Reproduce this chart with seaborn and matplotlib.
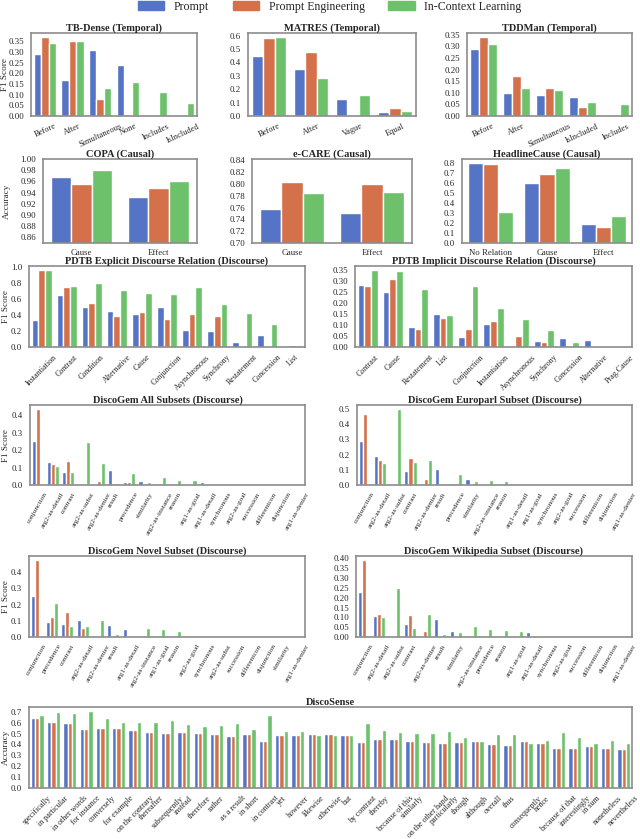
import pandas as pd
import matplotlib
matplotlib.use("Agg")
import matplotlib.pyplot as plt
from matplotlib.ticker import MultipleLocator
import seaborn as sns

methods = ["Prompt", "Prompt Engineering", "In-Context Learning"]
colors = ["#5674C6", "#D4714A", "#6CC16A"]

# ---- temporal
tb_cats = ["Before", "After", "Simultaneous", "None", "Includes", "IsIncluded"]
tb_prompt = [0.29, 0.17, 0.31, 0.24, 0.0, 0.0]
tb_pe = [0.37, 0.35, 0.08, 0.0, 0.0, 0.0]
tb_icl = [0.34, 0.35, 0.13, 0.16, 0.11, 0.06]

matres_cats = ["Before", "After", "Vague", "Equal"]
matres_prompt = [0.45, 0.35, 0.13, 0.03]
matres_pe = [0.58, 0.48, 0.0, 0.06]
matres_icl = [0.59, 0.28, 0.16, 0.035]

tdd_cats = ["Before", "After", "Simultaneous", "IsIncluded", "Includes"]
tdd_prompt = [0.29, 0.10, 0.09, 0.08, 0.0]
tdd_pe = [0.34, 0.17, 0.12, 0.04, 0.0]
tdd_icl = [0.31, 0.12, 0.11, 0.06, 0.05]

# ---- causal
copa_cats = ["Cause", "Effect"]
copa_prompt = [0.968, 0.932]
copa_pe = [0.956, 0.948]
copa_icl = [0.980, 0.960]

ecare_cats = ["Cause", "Effect"]
ecare_prompt = [0.757, 0.751]
ecare_pe = [0.803, 0.800]
ecare_icl = [0.784, 0.786]

head_cats = ["No Relation", "Cause", "Effect"]
head_prompt = [0.80, 0.60, 0.19]
head_pe = [0.79, 0.69, 0.16]
head_icl = [0.31, 0.75, 0.27]

# ---- PDTB
exp_cats = ["Instantiation", "Contrast", "Condition", "Alternative", "Cause", "Conjunction",
            "Asynchronous", "Synchrony", "Restatement", "Concession", "List"]
exp_prompt = [0.34, 0.66, 0.50, 0.45, 0.41, 0.50, 0.21, 0.20, 0.06, 0.15, 0.0]
exp_pe = [0.97, 0.76, 0.55, 0.39, 0.44, 0.35, 0.42, 0.39, 0.0, 0.0, 0.03]
exp_icl = [0.97, 0.77, 0.80, 0.72, 0.68, 0.67, 0.76, 0.54, 0.43, 0.29, 0.02]

imp_cats = ["Contrast", "Cause", "Restatement", "List", "Conjunction", "Instantiation",
            "Asynchronous", "Synchrony", "Concession", "Alternative", "Prag.Cause"]
imp_prompt = [0.28, 0.25, 0.092, 0.15, 0.045, 0.105, 0.0, 0.025, 0.042, 0.032, 0.0]
imp_pe = [0.275, 0.31, 0.08, 0.133, 0.08, 0.118, 0.05, 0.023, 0.0, 0.0, 0.0]
imp_icl = [0.35, 0.345, 0.265, 0.143, 0.275, 0.177, 0.128, 0.078, 0.023, 0.0, 0.0]

# ---- DiscoGem
all_cats = ["conjunction", "arg2-as-detail", "contrast", "arg2-as-subst", "arg2-as-denier", "result",
            "precedence", "similarity", "arg2-as-instance", "reason", "arg1-as-goal", "arg1-as-detail",
            "synchronous", "arg2-as-goal", "succession", "differentcon", "disjunction", "arg1-as-denier"]
all_prompt = [0.253, 0.13, 0.072, 0, 0, 0.086, 0.015, 0.023, 0, 0, 0, 0.017, 0, 0, 0, 0, 0, 0]
all_pe = [0.438, 0.118, 0.139, 0, 0.023, 0.005, 0.015, 0, 0, 0, 0, 0, 0, 0, 0, 0, 0, 0]
all_icl = [0.005, 0.107, 0.076, 0.248, 0.124, 0.011, 0.069, 0.019, 0.048, 0.029, 0.027, 0.004,
           0, 0, 0, 0, 0, 0]

euro_cats = ["conjunction", "arg2-as-detail", "arg2-as-subst", "contrast", "arg2-as-denier", "result",
             "precedence", "similarity", "arg2-as-instance", "reason", "arg1-as-detail", "arg1-as-goal",
             "synchronous", "arg2-as-goal", "succession", "differentcon", "disjunction", "arg1-as-denier"]
euro_prompt = [0.29, 0.188, 0, 0.09, 0, 0.105, 0.013, 0.037, 0, 0, 0, 0, 0, 0, 0, 0, 0, 0]
euro_pe = [0.463, 0.162, 0, 0.175, 0.041, 0.009, 0.015, 0, 0, 0, 0, 0, 0, 0, 0, 0, 0, 0]
euro_icl = [0, 0.144, 0.50, 0.148, 0.162, 0.007, 0.072, 0.026, 0.031, 0.024, 0, 0, 0, 0, 0, 0, 0, 0]

novel_cats = ["conjunction", "precedence", "contrast", "arg2-as-detail", "arg2-as-denier", "result",
              "arg1-as-detail", "arg2-as-instance", "arg1-as-goal", "reason", "arg2-as-goal", "synchronous",
              "arg2-as-subst", "succession", "differentcon", "disjunction", "similarity", "arg1-as-denier"]
novel_prompt = [0.25, 0.095, 0.078, 0.103, 0, 0.074, 0.052, 0, 0, 0, 0, 0, 0, 0, 0, 0, 0, 0]
novel_pe = [0.476, 0.124, 0.153, 0.058, 0, 0, 0, 0, 0, 0, 0, 0, 0, 0, 0, 0, 0, 0]
novel_icl = [0.006, 0.21, 0.066, 0.066, 0.105, 0.016, 0.008, 0.058, 0.049, 0.035, 0, 0, 0, 0, 0, 0, 0, 0]

wiki_cats = ["conjunction", "arg2-as-detail", "arg2-as-subst", "contrast", "arg2-as-denier", "result",
             "similarity", "arg2-as-instance", "precedence", "reason", "arg1-as-goal", "arg1-as-detail",
             "synchronous", "arg2-as-goal", "succession", "differentcon", "disjunction", "arg1-as-denier"]
wiki_prompt = [0.23, 0.109, 0, 0.065, 0, 0.09, 0.032, 0, 0, 0, 0, 0.024, 0, 0, 0, 0, 0, 0]
wiki_pe = [0.393, 0.117, 0, 0.114, 0.029, 0.005, 0, 0, 0, 0, 0, 0, 0, 0, 0, 0, 0, 0]
wiki_icl = [0.005, 0.10, 0.248, 0.046, 0.117, 0.017, 0.026, 0.056, 0.041, 0.037, 0.032, 0.005,
            0, 0, 0, 0, 0, 0]

# ---- DiscoSense
ds_cats = ["specifically", "in particular", "in other words", "for instance", "conversely", "for example",
           "on the contrary", "thereafter", "subsequently", "instead", "therefore", "rather", "as a result",
           "in short", "in contrast", "yet", "however", "likewise", "otherwise", "but", "by contrast",
           "thereby", "because of this", "similarly", "on the other hand", "particularly", "though",
           "although", "overall", "thus", "consequently", "hence", "because of that", "interestingly",
           "in sum", "nonetheless", "nevertheless"]
ds_prompt = [0.638, 0.608, 0.593, 0.538, 0.553, 0.547, 0.532, 0.517, 0.505, 0.517, 0.505, 0.498, 0.474,
             0.498, 0.435, 0.489, 0.483, 0.50, 0.495, 0.489, 0.426, 0.447, 0.447, 0.429, 0.423, 0.417,
             0.426, 0.435, 0.401, 0.392, 0.429, 0.41, 0.365, 0.371, 0.386, 0.365, 0.359]
ds_pe = list(ds_prompt)
ds_icl = [0.669, 0.702, 0.684, 0.708, 0.638, 0.605, 0.602, 0.608, 0.623, 0.584, 0.568, 0.578, 0.593,
          0.541, 0.666, 0.52, 0.523, 0.489, 0.483, 0.489, 0.596, 0.532, 0.511, 0.502, 0.508, 0.52,
          0.465, 0.435, 0.495, 0.498, 0.41, 0.444, 0.511, 0.465, 0.413, 0.441, 0.413]

sns.set_style("white")
plt.rcParams["font.family"] = ["Liberation Serif", "DejaVu Serif"]

W, H = 640, 839
fig = plt.figure(figsize=(W / 100, H / 100), dpi=100)


def make_ax(l, t, r, b):
    ax = fig.add_axes([l / W, 1 - b / H, (r - l) / W, (b - t) / H])
    ax.px = (l, r)
    return ax


def draw(ax, title, cats, prompt, pe, icl, step, rot=0, ylabel=None, ylim=None, fs=6, ylab_x=None):
    n = len(cats)
    df = pd.DataFrame({
        "label": cats * 3,
        "score": prompt + pe + icl,
        "method": [methods[0]] * n + [methods[1]] * n + [methods[2]] * n,
    })
    sns.barplot(data=df, x="label", y="score", hue="method", order=cats, hue_order=methods,
                palette=colors, saturation=1, errorbar=None, ax=ax, legend=False)
    ax.set_title(title, fontsize=7.5, fontweight="bold", pad=1.5)
    ax.set_xlabel("")
    ax.set_ylabel(ylabel if ylabel else "", fontsize=6.6)
    if ylabel and ylab_x is not None:
        l, r = ax.px
        ax.yaxis.set_label_coords((ylab_x - l) / (r - l), 0.5)
    if ylim:
        ax.set_ylim(*ylim)
    ax.yaxis.set_major_locator(MultipleLocator(step))
    ax.tick_params(axis="x", rotation=rot, labelsize=fs, pad=1)
    ax.tick_params(axis="y", labelsize=6.4, pad=1.5)
    for s in ax.spines.values():
        s.set_color("0.55")
        s.set_linewidth(1.2)


ax = make_ax(31, 33, 197, 116)
draw(ax, "TB-Dense (Temporal)", tb_cats, tb_prompt, tb_pe, tb_icl, 0.05, rot=25,
     ylabel="F1 Score", ylab_x=9.5)
ax = make_ax(248, 33, 416, 116)
draw(ax, "MATRES (Temporal)", matres_cats, matres_prompt, matres_pe, matres_icl, 0.1, rot=25)
ax = make_ax(467, 33, 632, 116)
draw(ax, "TDDMan (Temporal)", tdd_cats, tdd_prompt, tdd_pe, tdd_icl, 0.05, rot=25)

ax = make_ax(43, 159, 197, 243)
draw(ax, "COPA (Causal)", copa_cats, copa_prompt, copa_pe, copa_icl, 0.02,
     ylabel="Accuracy", ylim=(0.85, 1.0), fs=6.3, ylab_x=10.5)
ax = make_ax(252, 159, 412, 243)
draw(ax, "e-CARE (Causal)", ecare_cats, ecare_prompt, ecare_pe, ecare_icl, 0.02,
     ylim=(0.70, 0.8425), fs=6.3)
ax = make_ax(462, 159, 632, 243)
draw(ax, "HeadlineCause (Causal)", head_cats, head_prompt, head_pe, head_icl, 0.1, fs=6.3)

ax = make_ax(29, 266, 305, 347)
draw(ax, "PDTB Explicit Discourse Relation (Discourse)", exp_cats, exp_prompt, exp_pe, exp_icl, 0.2,
     rot=45, ylabel="F1 Score", fs=5.8, ylab_x=10)
ax = make_ax(355, 266, 632, 347)
draw(ax, "PDTB Implicit Discourse Relation (Discourse)", imp_cats, imp_prompt, imp_pe, imp_icl, 0.05,
     rot=45, fs=5.8)

ax = make_ax(30, 405, 305, 485)
draw(ax, "DiscoGem All Subsets (Discourse)", all_cats, all_prompt, all_pe, all_icl, 0.1,
     rot=60, ylabel="F1 Score", fs=5.3, ylab_x=10.5)
ax = make_ax(357, 405, 632, 485)
draw(ax, "DiscoGem Europarl Subset (Discourse)", euro_cats, euro_prompt, euro_pe, euro_icl, 0.1,
     rot=60, fs=5.3)

ax = make_ax(29, 556, 305, 637)
draw(ax, "DiscoGem Novel Subset (Discourse)", novel_cats, novel_prompt, novel_pe, novel_icl, 0.1,
     rot=60, ylabel="F1 Score", fs=5.3, ylab_x=10.5)
ax = make_ax(356, 556, 632, 637)
draw(ax, "DiscoGem Wikipedia Subset (Discourse)", wiki_cats, wiki_prompt, wiki_pe, wiki_icl, 0.05,
     rot=60, fs=5.3)

ax = make_ax(29, 707, 632, 788)
draw(ax, "DiscoSense", ds_cats, ds_prompt, ds_pe, ds_icl, 0.1, rot=45,
     ylabel="Accuracy", fs=5.8, ylab_x=10)

handles = [plt.Rectangle((0, 0), 1, 1, color=c) for c in colors]
fig.legend(handles, methods, loc="upper center", bbox_to_anchor=(0.515, 1.012), ncol=3,
           frameon=False, fontsize=8.6, handlelength=2.2, handleheight=0.8,
           handletextpad=0.8, columnspacing=2.0)

fig.savefig("out.png", dpi=100)
